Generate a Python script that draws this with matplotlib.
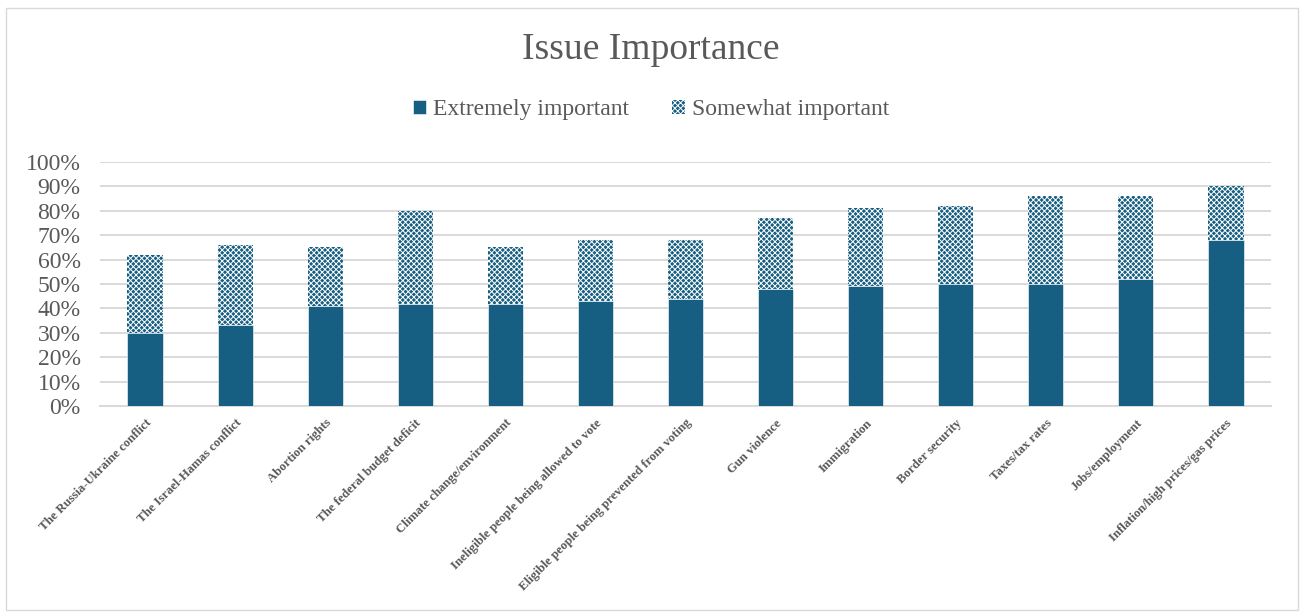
import numpy as np
import matplotlib
matplotlib.use("Agg")
import matplotlib.pyplot as plt
from matplotlib.patches import Rectangle
from matplotlib.ticker import PercentFormatter

issues = ["The Russia-Ukraine conflict", "The Israel-Hamas conflict", "Abortion rights",
          "The federal budget deficit", "Climate change/environment",
          "Ineligible people being allowed to vote", "Eligible people being prevented from voting",
          "Gun violence", "Immigration", "Border security", "Taxes/tax rates",
          "Jobs/employment", "Inflation/high prices/gas prices"]
extremely = [30, 33, 41, 42, 42, 43, 44, 48, 49, 50, 50, 52, 68]
somewhat = [32, 33, 24, 38, 23, 25, 24, 29, 32, 32, 36, 34, 22]

blue = "#175F82"
grey_text = "#595959"

plt.rcParams['font.family'] = ['Liberation Serif', 'DejaVu Serif']
plt.rcParams['hatch.linewidth'] = 0.7

fig = plt.figure(figsize=(13.02, 6.12), dpi=100)
ax = fig.add_axes([100 / 1302, 1 - 406 / 612, 1171 / 1302, 244 / 612])

x = np.arange(len(issues))
ax.bar(x, extremely, width=0.39, color=blue, edgecolor="white", linewidth=0.4,
       label="Extremely important", zorder=3)
ax.bar(x, somewhat, width=0.39, bottom=extremely, color=blue, edgecolor="white",
       hatch="xxxxxx", linewidth=0, label="Somewhat important", zorder=3)

ax.set_xlim(-0.5, len(issues) - 0.5)
ax.set_ylim(0, 100)
ax.set_yticks(range(0, 101, 10))
ax.yaxis.set_major_formatter(PercentFormatter(decimals=0))
ax.grid(axis="y", color="#D9D9D9", linewidth=1.4, zorder=0)
for s in ["top", "right", "left"]:
    ax.spines[s].set_visible(False)
ax.spines["bottom"].set_color("#D9D9D9")
ax.spines["bottom"].set_linewidth(1.4)
ax.tick_params(axis="both", length=0, colors=grey_text)
ax.tick_params(axis="y", labelsize=17, pad=14)
ax.set_xticks(x)
ax.set_xticklabels(issues, rotation=45, ha="right", rotation_mode="anchor",
                   fontsize=9.2, fontweight="bold", color=grey_text)
ax.tick_params(axis="x", pad=8)

fig.suptitle("Issue Importance", y=1 - 50 / 612, va="center", fontsize=27, color=grey_text)
fig.legend(loc="center", bbox_to_anchor=(0.5, 1 - 110 / 612), ncol=2, frameon=False,
           fontsize=17, labelcolor=grey_text, handlelength=0.55, handleheight=0.55,
           handletextpad=0.3, columnspacing=1.8)

fig.patches.append(Rectangle((6 / 1302, 2 / 612), 1292 / 1302, 602 / 612,
                             transform=fig.transFigure, fill=False,
                             edgecolor="#D9D9D9", linewidth=1))

fig.savefig("out.png", dpi=100)
